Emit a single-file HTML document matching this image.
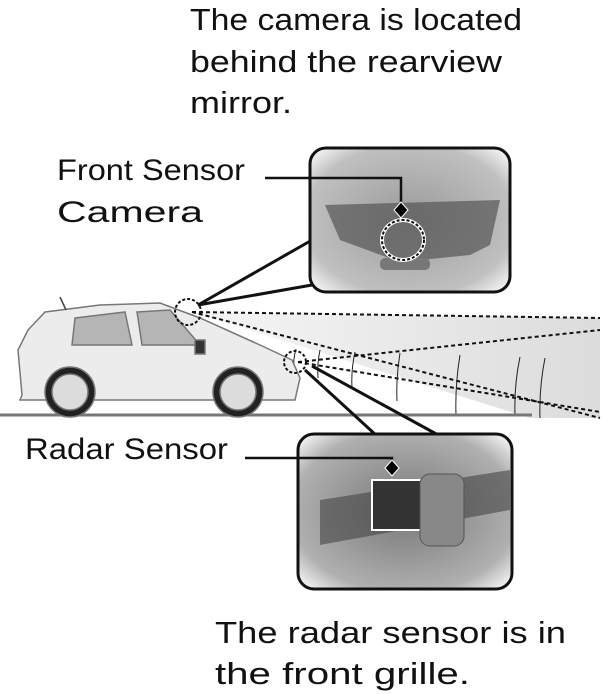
<!DOCTYPE html>
<html><head><meta charset="utf-8"><style>
html,body{margin:0;padding:0;background:#fff;}
svg{display:block;}
text{font-family:"Liberation Sans",sans-serif;fill:#111;}
</style></head><body>
<svg width="602" height="694" viewBox="0 0 602 694" xmlns="http://www.w3.org/2000/svg">
<defs>
<radialGradient id="g1" cx="0.5" cy="0.5" r="0.7">
<stop offset="0" stop-color="#9a9a9a"/><stop offset="0.75" stop-color="#c0c0c0"/><stop offset="1" stop-color="#fff"/>
</radialGradient>
<radialGradient id="g2" cx="0.5" cy="0.5" r="0.7">
<stop offset="0" stop-color="#777"/><stop offset="0.75" stop-color="#b0b0b0"/><stop offset="1" stop-color="#fff"/>
</radialGradient>
<linearGradient id="beam" x1="0" x2="1"><stop offset="0" stop-color="#f6f6f6"/><stop offset="1" stop-color="#dcdcdc"/></linearGradient>
</defs>
<text x="190" y="30" font-size="31" textLength="332" lengthAdjust="spacingAndGlyphs">The camera is located</text>
<text x="190" y="72" font-size="31" textLength="312" lengthAdjust="spacingAndGlyphs">behind the rearview</text>
<text x="190" y="113" font-size="31" textLength="102" lengthAdjust="spacingAndGlyphs">mirror.</text>
<text x="57" y="180" font-size="30" textLength="188" lengthAdjust="spacingAndGlyphs">Front Sensor</text>
<text x="57" y="222" font-size="30" textLength="146" lengthAdjust="spacingAndGlyphs">Camera</text>
<text x="25" y="459" font-size="30" textLength="203" lengthAdjust="spacingAndGlyphs">Radar Sensor</text>
<text x="215" y="643" font-size="31" textLength="351" lengthAdjust="spacingAndGlyphs">The radar sensor is in</text>
<text x="215" y="684" font-size="31" textLength="255" lengthAdjust="spacingAndGlyphs">the front grille.</text>

<!-- beams -->
<polygon points="192,312 600,318 600,418 530,418" fill="url(#beam)"/>
<line x1="192" y1="312" x2="600" y2="318" stroke="#111" stroke-width="2" stroke-dasharray="4,3"/>
<line x1="192" y1="312" x2="600" y2="418" stroke="#111" stroke-width="2" stroke-dasharray="4,3"/>
<line x1="298" y1="362" x2="600" y2="330" stroke="#111" stroke-width="2" stroke-dasharray="4,3"/>
<line x1="298" y1="362" x2="600" y2="412" stroke="#111" stroke-width="2" stroke-dasharray="4,3"/>
<g stroke="#222" stroke-width="1" fill="none">
<path d="M296,349 q-3,10 -2,20"/><path d="M320,350 q-3,14 -2,28"/><path d="M355,352 q-4,18 -3,36"/>
<path d="M400,353 q-4,24 -3,48"/><path d="M460,355 q-5,30 -4,60"/><path d="M520,357 q-6,28 -5,58"/>
<path d="M545,358 q-6,30 -5,60"/>
</g>
<!-- ground -->
<line x1="0" y1="415" x2="532" y2="415" stroke="#777" stroke-width="3"/>
<!-- car -->
<g stroke="#777" stroke-width="1.5">
<path d="M22,395 L18,350 L28,330 L45,312 L100,305 L160,303 L200,318 L260,345 L292,360 L300,378 L295,400 L20,400 Z" fill="#ececec"/>
<path d="M75,318 L125,312 L132,345 L72,345 Z" fill="#b5b5b5"/>
<path d="M137,312 L170,310 L200,345 L142,345 Z" fill="#b5b5b5"/>
<circle cx="70" cy="392" r="25" fill="#222"/><circle cx="70" cy="392" r="18" fill="#dcdcdc"/>
<circle cx="238" cy="392" r="25" fill="#222"/><circle cx="238" cy="392" r="18" fill="#dcdcdc"/>
<rect x="195" y="340" width="10" height="14" fill="#333"/>
</g>
<line x1="60" y1="297" x2="66" y2="310" stroke="#444" stroke-width="1.5"/>
<!-- sensor circles -->
<circle cx="188" cy="312" r="13" fill="none" stroke="#111" stroke-width="2" stroke-dasharray="3,2"/>
<circle cx="295" cy="362" r="11" fill="none" stroke="#111" stroke-width="2" stroke-dasharray="3,2"/>
<!-- callouts -->
<path d="M198,305 L312,240 M198,305 L312,285" stroke="#111" stroke-width="3"/>
<path d="M305,370 L377,436 M312,366 L440,436" stroke="#111" stroke-width="3"/>
<rect x="310" y="148" width="200" height="144" rx="16" fill="url(#g1)" stroke="#111" stroke-width="3"/>
<path d="M325,205 L500,200 L490,245 L470,255 L400,262 L340,240 Z" fill="#555" opacity="0.7"/>
<rect x="380" y="258" width="50" height="12" rx="5" fill="#777"/>
<rect x="298" y="434" width="214" height="155" rx="16" fill="url(#g2)" stroke="#111" stroke-width="3"/>
<path d="M320,500 L510,470 L510,510 L320,545 Z" fill="#444" opacity="0.6"/>
<rect x="372" y="480" width="65" height="50" fill="#333" stroke="#fff" stroke-width="2"/>
<rect x="420" y="474" width="44" height="72" rx="10" fill="#888" stroke="#555"/>
<!-- leaders -->
<path d="M265,178 L401,178 L401,205" fill="none" stroke="#111" stroke-width="2.5"/>
<path d="M401,202 L408,210 L401,218 L394,210 Z" fill="#000" stroke="#fff" stroke-width="1"/>
<ellipse cx="403" cy="240" rx="21" ry="20" fill="none" stroke="#fff" stroke-width="4"/>
<ellipse cx="403" cy="240" rx="21" ry="20" fill="none" stroke="#111" stroke-width="2" stroke-dasharray="3,2"/>
<path d="M245,458 L392,458 L392,463" fill="none" stroke="#111" stroke-width="2.5"/>
<path d="M392,460 L399,468 L392,476 L385,468 Z" fill="#000" stroke="#fff" stroke-width="1"/>
</svg>
</body></html>
